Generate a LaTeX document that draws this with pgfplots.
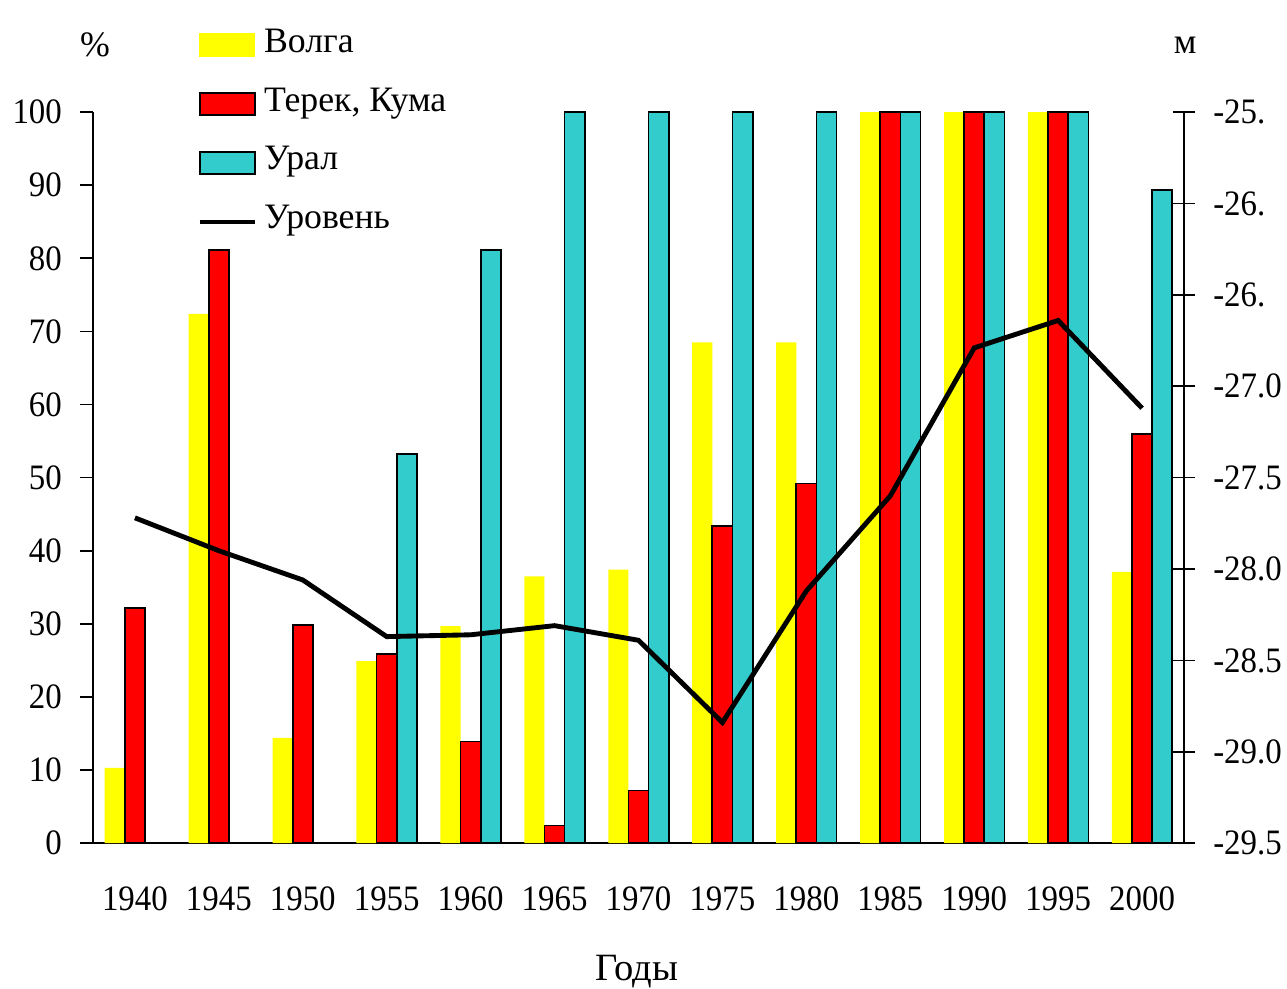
\documentclass[border=0pt]{standalone}
\usepackage{fontspec}
\setmainfont{Liberation Serif}
\newfontfamily\tickfont[FakeStretch=0.92]{Liberation Serif}
\usepackage{pgfplots}
\pgfplotsset{compat=1.18}
\definecolor{cvolga}{RGB}{255,255,0}
\definecolor{cterek}{RGB}{255,0,0}
\definecolor{cural}{RGB}{51,204,204}
\begin{document}
\fontsize{12.5}{14}\selectfont
\begin{tikzpicture}
\path[use as bounding box] (-32.5pt,-50.7pt) rectangle (417.5pt,294.8pt);
\begin{axis}[
  at={(0pt,0pt)}, anchor=south west,
  scale only axis, width=381.5pt, height=255.6pt,
  xmin=-0.5, xmax=12.5, ymin=0, ymax=100,
  axis x line*=bottom, axis y line*=left,
  axis line style={line width=0.6pt},
  every tick/.style={black, line width=0.6pt},
  tick align=outside,
  major tick length=4.5pt, minor tick length=4.5pt,
  xtick={0,...,12},
  xticklabels={1940,1945,1950,1955,1960,1965,1970,1975,1980,1985,1990,1995,2000},
  xtick style={draw=none},
  minor xtick={-0.5,0.5,...,12.5},
  ytick={0,10,...,100},
  /pgf/number format/assume math mode=true,
  ticklabel style={font=\tickfont\fontsize{12.5}{14}\selectfont},
  yticklabel style={xshift=-2pt},
  xticklabel style={yshift=-6.5pt},
  clip=false,
]
\addplot[ybar, bar width=0.24, bar shift=-0.24, fill=cvolga, draw=none] coordinates {
 (0,10.3) (1,72.4) (2,14.4) (3,24.9) (4,29.7) (5,36.5) (6,37.4) (7,68.5) (8,68.5) (9,100) (10,100) (11,100) (12,37.1)};
\addplot[ybar, bar width=0.24, bar shift=0, fill=cterek, draw=black, line width=0.6pt] coordinates {
 (0,32.2) (1,81.1) (2,29.8) (3,25.9) (4,13.9) (5,2.4) (6,7.2) (7,43.4) (8,49.2) (9,100) (10,100) (11,100) (12,56.0)};
\addplot[ybar, bar width=0.24, bar shift=0.24, fill=cural, draw=black, line width=0.6pt] coordinates {
 (3,53.2) (4,81.1) (5,100) (6,100) (7,100) (8,100) (9,100) (10,100) (11,100) (12,89.3)};
\node at (axis description cs:0.002,1.0915) {\%};
\node at (axis description cs:1.001,1.0915) {м};
\node[font=\fontsize{13.5}{15}\selectfont] at (axis description cs:0.4986,-0.1760) {Годы};
\end{axis}
\begin{axis}[
  at={(0pt,0pt)}, anchor=south west,
  scale only axis, width=381.5pt, height=255.6pt,
  xmin=-0.5, xmax=12.5, ymin=-29.5, ymax=-25.5,
  axis x line=none, axis y line*=right,
  axis line style={line width=0.6pt},
  every tick/.style={black, line width=0.6pt},
  tick align=center, major tick length=7.7pt,
  ytick={-29.5,-29,-28.5,-28,-27.5,-27,-26.5,-26,-25.5},
  yticklabels={-29.5,-29.0,-28.5,-28.0,-27.5,-27.0,-26.,-26.,-25.},
  yticklabel style={font=\tickfont\fontsize{12.5}{14}\selectfont, xshift=2pt},
  clip=false,
  legend style={at={(axis description cs:0.0955,1.1142)}, anchor=north west,
    draw=none, fill=none, inner sep=0pt, row sep=9.6pt,
    font=\fontsize{12.5}{14}\selectfont,
    nodes={inner sep=0pt, text height=8pt, text depth=3pt, anchor=west},
    /tikz/every odd column/.append style={column sep=2.6pt}},
  legend cell align=left,
]
\addlegendimage{legend image code/.code={\fill[cvolga] (0pt,-3.85pt) rectangle (19.2pt,3.85pt);}}
\addlegendentry{Волга}
\addlegendimage{legend image code/.code={\draw[fill=cterek, line width=0.6pt] (0pt,-3.85pt) rectangle (19.2pt,3.85pt);}}
\addlegendentry{Терек, Кума}
\addlegendimage{legend image code/.code={\draw[fill=cural, line width=0.6pt] (0pt,-3.85pt) rectangle (19.2pt,3.85pt);}}
\addlegendentry{Урал}
\addplot[black, line width=1.7pt, mark=none, legend image code/.code={\draw[black, line width=1.4pt] (0pt,0pt) -- (19.2pt,0pt);}] coordinates {
 (0,-27.72) (1,-27.90) (2,-28.06) (3,-28.37) (4,-28.36) (5,-28.31) (6,-28.39) (7,-28.84) (8,-28.12) (9,-27.60) (10,-26.79) (11,-26.64) (12,-27.12)};
\addlegendentry{Уровень}
\end{axis}
\end{tikzpicture}
\end{document}
